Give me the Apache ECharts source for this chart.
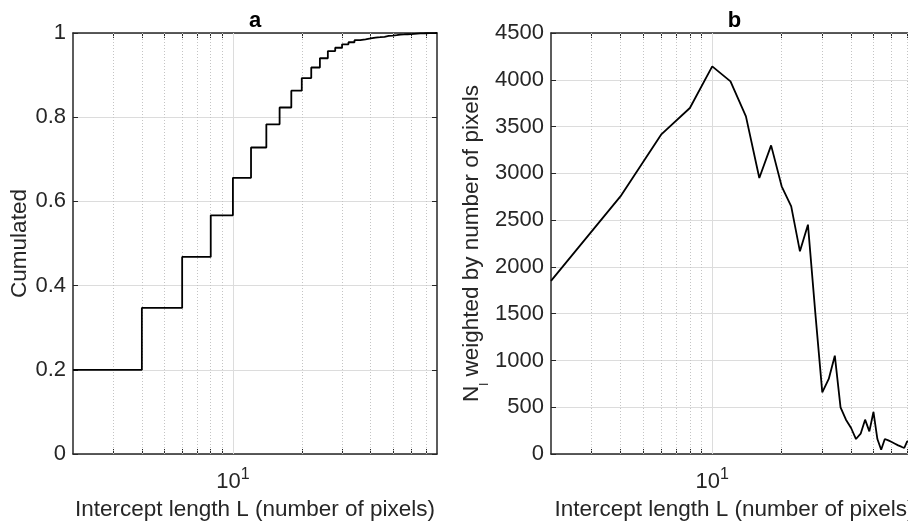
<!DOCTYPE html>
<html>
<head>
<meta charset="utf-8">
<script src="https://cdn.jsdelivr.net/npm/echarts@6/dist/echarts.min.js"></script>
<style>
html,body{margin:0;padding:0;background:#fff;overflow:hidden;}
#c{width:908px;height:521px;}
</style>
</head>
<body>
<div id="c"></div>
<script>
// ---- data ----
var cdfL = [2,4,6,8,10,12,14,16,18,20,22,24,26,28,30,32,34,36,38,40,42,44,46,48,50,52,54,56,58,60,62,64,66,68,70,72,74,76,78];
var cdfY = [0.200,0.347,0.468,0.567,0.656,0.728,0.783,0.823,0.863,0.893,0.918,0.940,0.957,0.965,0.973,0.978,0.983,0.985,0.987,0.989,0.990,0.991,0.993,0.994,0.995,0.996,0.9965,0.997,0.9975,0.998,0.9985,0.999,0.9992,0.9994,0.9996,0.9998,0.9999,1.0,1.0];

var nL = [2,4,6,8,10,12,14,16,18,20,22,24,26,28,30,32,34,36,38,40,42,44,46,48,50,52,54,56,58,60,62,64,66,68,70,72];
var nW = [1850,2753,3413,3698,4143,3983,3609,2950,3299,2861,2647,2166,2451,1500,658,802,1051,498,367,278,160,217,367,242,449,160,46,160,145,128,110,92,78,64,135,130];

var xMin = 2, xMax = 78;
var xMajorTicks = [10];
var xMinorTicks = [3,4,5,6,7,8,9,20,30,40,50,60,70];
var leftYTicks = [0,0.2,0.4,0.6,0.8,1];
var rightYTicks = [0,500,1000,1500,2000,2500,3000,3500,4000,4500];

var titles = ['a','b'];
var xTitle = 'Intercept length L (number of pixels)';
var yTitleLeft = 'Cumulated';
var yTitleRight = 'N{sub|l} weighted by number of pixels';

// ---- styling ----
var FONT = "'Liberation Sans', Arial, Helvetica, sans-serif";
var AX = '#262626';
var NAME_FS = 22.5;
var allXTicks = xMinorTicks.concat(xMajorTicks).sort(function(a,b){return a-b;});

function zip(a,b){ return a.map(function(v,i){return [v,b[i]];}); }

function xAxisBottom(grid){
  return {
    type:'log', logBase:10, gridIndex:grid, position:'bottom', min:xMin, max:xMax,
    axisLine:{show:true, onZero:false, lineStyle:{color:AX, width:1.5}},
    axisTick:{show:true, inside:true, length:5, customValues:allXTicks, lineStyle:{color:AX, width:1}},
    axisLabel:{show:true, margin:13, customValues:xMajorTicks, color:AX, fontFamily:FONT, fontSize:22,
      formatter:function(v){ var e = Math.round(Math.log(v)/Math.LN10); return '{b|10}{s|' + e + '}'; },
      rich:{ b:{fontSize:22, fontFamily:FONT, color:AX}, s:{fontSize:16, fontFamily:FONT, color:AX, padding:[0,0,13,0]} } },
    splitLine:{show:false},
    name: xTitle, nameLocation:'middle', nameGap:44,
    nameTextStyle:{color:AX, fontFamily:FONT, fontSize:NAME_FS}
  };
}
function xAxisTop(grid, title){
  return {
    type:'log', logBase:10, gridIndex:grid, position:'top', min:xMin, max:xMax,
    axisLine:{show:true, onZero:false, lineStyle:{color:AX, width:1.5}},
    axisTick:{show:true, inside:true, length:5, customValues:allXTicks, lineStyle:{color:AX, width:1}},
    axisLabel:{show:false},
    splitLine:{show:false},
    name:title, nameLocation:'middle', nameGap:1,
    nameTextStyle:{color:'#000', fontFamily:FONT, fontSize:22, fontWeight:'bold'}
  };
}
function yAxisLeft(grid, ticks, name, gap, rich){
  return {
    type:'value', gridIndex:grid, position:'left', min:ticks[0], max:ticks[ticks.length-1], interval:ticks[1]-ticks[0],
    axisLine:{show:true, lineStyle:{color:AX, width:1.5}},
    axisTick:{show:true, inside:true, length:5, lineStyle:{color:AX, width:1}},
    axisLabel:{show:true, margin:7, color:AX, fontFamily:FONT, fontSize:22,
      formatter:function(v){ return String(+v.toFixed(6)); }},
    splitLine:{show:true, lineStyle:{color:'#dcdcdc', width:1}},
    name:name, nameLocation:'middle', nameGap:gap,
    nameTextStyle:{color:AX, fontFamily:FONT, fontSize:NAME_FS, rich:rich || {}}
  };
}
function yAxisRight(grid, ticks){
  return {
    type:'value', gridIndex:grid, position:'right', min:ticks[0], max:ticks[ticks.length-1], interval:ticks[1]-ticks[0],
    axisLine:{show:true, lineStyle:{color:AX, width:1.5}},
    axisTick:{show:true, inside:true, length:5, lineStyle:{color:AX, width:1}},
    axisLabel:{show:false}, splitLine:{show:false}
  };
}
function gridLines(xi, yi){
  var d = xMinorTicks.map(function(v){
    return {xAxis:v, lineStyle:{color:'#c4c4c4', width:1, type:[1,2]}};
  }).concat(xMajorTicks.map(function(v){
    return {xAxis:v, lineStyle:{color:'#dcdcdc', width:1, type:'solid'}};
  }));
  return {
    type:'line', xAxisIndex:xi, yAxisIndex:yi, data:[], z:1, silent:true,
    markLine:{silent:true, symbol:['none','none'], label:{show:false}, animation:false, z:1, data:d}
  };
}

var chart = echarts.init(document.getElementById('c'), null, {renderer:'canvas'});
chart.setOption({
  animation:false,
  backgroundColor:'#fff',
  grid:[
    {left:73, top:33, width:364, height:421, containLabel:false, outerBoundsMode:'none'},
    {left:551, top:33, width:367, height:421, containLabel:false, outerBoundsMode:'none'}
  ],
  xAxis:[ xAxisBottom(0), xAxisTop(0, titles[0]), xAxisBottom(1), xAxisTop(1, titles[1]) ],
  yAxis:[
    yAxisLeft(0, leftYTicks, yTitleLeft, 37),
    yAxisRight(0, leftYTicks),
    yAxisLeft(1, rightYTicks, yTitleRight, 60, {sub:{fontSize:13, fontFamily:FONT, color:AX, padding:[26,0,0,0]}}),
    yAxisRight(1, rightYTicks)
  ],
  series:[
    gridLines(0,0),
    gridLines(2,2),
    {type:'line', xAxisIndex:0, yAxisIndex:0, step:'end', data:zip(cdfL, cdfY),
     showSymbol:false, symbol:'none', lineStyle:{color:'#000', width:1.8}, z:3},
    {type:'line', xAxisIndex:2, yAxisIndex:2, data:zip(nL, nW),
     showSymbol:false, symbol:'none', lineStyle:{color:'#000', width:1.8}, z:3}
  ]
});
</script>
</body>
</html>
